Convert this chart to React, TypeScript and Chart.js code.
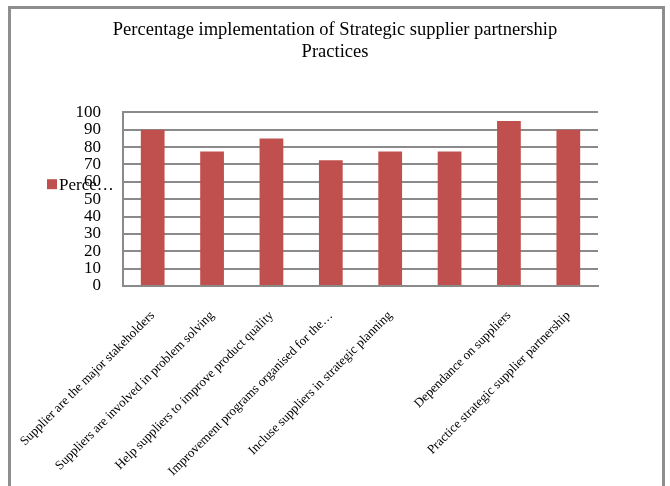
import React, { useEffect, useRef } from "react";
import { Chart, registerables } from "chart.js";

Chart.register(...registerables);

const titleLines = ["Percentage implementation of Strategic supplier partnership", "Practices"];
const categories = [
  "Supplier are the major stakeholders",
  "Suppliers are involved in problem solving",
  "Help suppliers to improve product quality",
  "Improvement programs organised for the\u2026",
  "Incluse suppliers in strategic planning",
  "",
  "Dependance on suppliers",
  "Practice strategic supplier partnership",
];
const seriesName = "Percentage";
const legendText = "Perce\u2026";
const values = [90, 77.5, 85, 72.5, 77.5, 77.5, 95, 90];
const yMin = 0;
const yMax = 100;
const yStep = 10;

const SERIF = "'Liberation Serif', 'Times New Roman', serif";
const GRID = "#8a8a8a";
const BAR = "#C0504D";

const framePlugin = {
  id: "frame",
  beforeDraw(chart: any) {
    const ctx = chart.ctx;
    ctx.save();
    ctx.fillStyle = "#ffffff";
    ctx.fillRect(0, 0, chart.width, chart.height);
    ctx.strokeStyle = "#8e8e8e";
    ctx.lineWidth = 3;
    ctx.strokeRect(9.5, 7.5, 654, 520);
    ctx.restore();
  },
  afterDraw(chart: any) {
    const ctx = chart.ctx;
    const area = chart.chartArea;
    const cy = (area.top + area.bottom) / 2 - 15;
    ctx.save();
    ctx.fillStyle = chart.data.datasets[0].backgroundColor;
    ctx.fillRect(47, cy - 5, 10, 10);
    ctx.fillStyle = "#000";
    ctx.font = "17px " + SERIF;
    ctx.textBaseline = "middle";
    ctx.textAlign = "left";
    ctx.fillText(legendText, 59, cy + 1);
    ctx.restore();
  },
};

export default function App() {
  const ref = useRef<HTMLCanvasElement | null>(null);
  useEffect(() => {
    document.body.style.margin = "0";
    const chart = new Chart(ref.current as HTMLCanvasElement, {
      type: "bar",
      data: {
        labels: categories,
        datasets: [
          {
            label: seriesName,
            data: values,
            backgroundColor: BAR,
            borderWidth: 0,
            barPercentage: 0.4,
            categoryPercentage: 1,
          },
        ],
      },
      options: {
        animation: false,
        responsive: false,
        layout: { padding: 0 },
        plugins: {
          legend: { display: false },
          tooltip: { enabled: false },
          title: {
            display: true,
            text: titleLines,
            color: "#000",
            font: { family: SERIF, size: 18.5, weight: "normal", lineHeight: 1.2 },
            padding: { top: 19, bottom: 49 },
          },
        },
        scales: {
          x: {
            grid: { display: false },
            border: { display: true, color: GRID, width: 2 },
            ticks: {
              autoSkip: false,
              maxRotation: 45,
              minRotation: 45,
              padding: 14,
              color: "#000",
              font: { family: SERIF, size: 13 },
            },
            afterFit(scale: any) {
              scale.height = 200;
            },
          },
          y: {
            min: yMin,
            max: yMax,
            ticks: {
              stepSize: yStep,
              autoSkip: false,
              color: "#000",
              padding: 22,
              font: { family: SERIF, size: 17, lineHeight: 1 },
            },
            grid: { color: GRID, lineWidth: 2, drawTicks: false },
            border: { display: true, color: GRID, width: 2 },
            afterFit(scale: any) {
              scale.width = 123;
            },
          },
          y2: {
            position: "right",
            display: true,
            grid: { display: false, drawTicks: false },
            border: { display: false },
            ticks: { display: false },
            afterFit(scale: any) {
              scale.width = 72;
            },
          },
        },
      },
      plugins: [framePlugin],
    } as any);
    return () => chart.destroy();
  }, []);
  return (
    <div style={{ position: "absolute", left: 0, top: 0, width: 670, height: 486 }}>
      <canvas ref={ref} width={670} height={486} style={{ width: 670, height: 486 }} />
    </div>
  );
}
